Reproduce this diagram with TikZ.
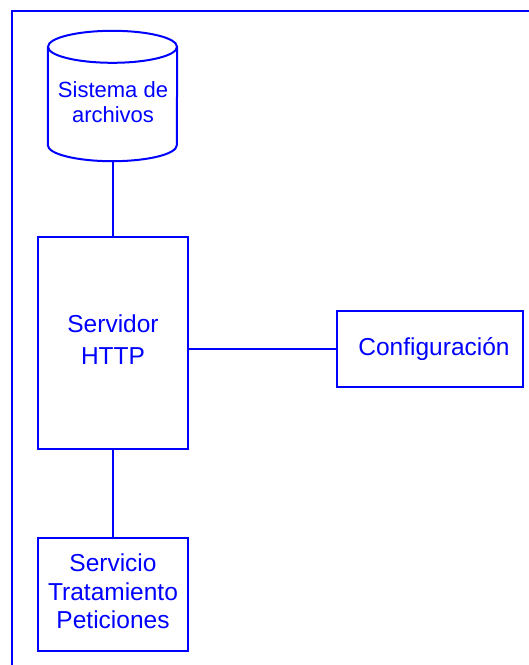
\documentclass[tikz,border=0pt]{standalone}
\usepackage{fontspec}
\setmainfont{Liberation Sans}
\newcommand{\stacklines}[2]{\raisebox{#1}{\begin{tabular}{@{}c@{}}#2\end{tabular}}}
\begin{document}
\begin{tikzpicture}[x=1bp,y=-1bp,
  ink/.style={draw=blue,text=blue},
  boxnode/.style={ink,line width=2.7bp,rectangle,inner sep=0pt,
    font=\fontsize{24.5bp}{28.5bp}\selectfont},
  link/.style={draw=blue,line width=2bp},
  frameline/.style={draw=blue,line width=2.2bp}]
  \useasboundingbox (0,0) rectangle (529,665);
  % page frame (top and left edges)
  \draw[frameline] (12,665) -- (12,11) -- (529,11);
  % file system drum
  \node[inner sep=0pt,minimum width=129bp,minimum height=130bp] (fs) at (112.5,96) {};
  \draw[draw=blue,line width=2bp]
    ([yshift=-16bp]fs.north west) -- ([yshift=16bp]fs.south west)
    arc[start angle=180,end angle=360,x radius=64.5bp,y radius=16bp]
    -- ([yshift=-16bp]fs.north east);
  \draw[draw=blue,line width=2bp] ([yshift=-16bp]fs.north)
    ellipse[x radius=64.5bp,y radius=16bp];
  \node[text=blue,align=center,font=\fontsize{22bp}{25bp}\selectfont] (fslabel) at (113,102) {Sistema de\\archivos};
  % main boxes
  \node[boxnode,minimum width=150bp,minimum height=212bp] (http) at (113,343)
    {\stacklines{4bp}{Servidor\\[3bp]HTTP}};
  \node[boxnode,line width=2.2bp,minimum width=186bp,minimum height=76bp] (conf) at (430,349)
    {\hspace{8bp}Configuración};
  \node[boxnode,minimum width=150bp,minimum height=113bp] (svc) at (113,594.5)
    {\stacklines{2.5bp}{Servicio\\Tratamiento\\Peticiones}};
  % connectors
  \draw[link] (fs.south -| http.north) -- (http.north);
  \draw[link] (http.east |- conf.west) -- (conf.west);
  \draw[link] (http.south) -- (svc.north);
\end{tikzpicture}
\end{document}
